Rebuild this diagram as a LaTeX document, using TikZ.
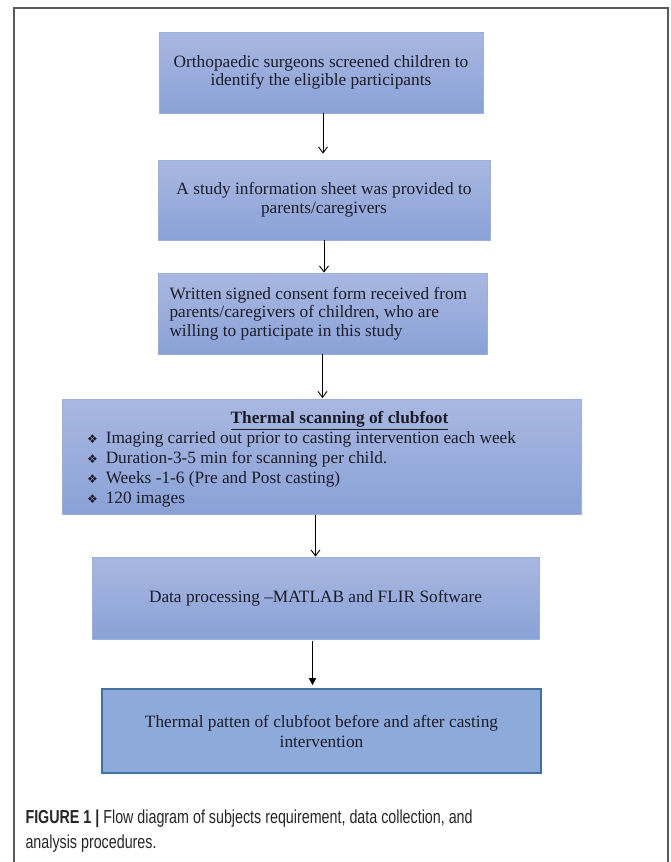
\documentclass[tikz,border=0pt]{standalone}
\usepackage{fontspec}
\setmainfont{Liberation Serif}
\newfontfamily\capfont[FakeStretch=0.76]{Liberation Sans}
\newfontfamily\symfont{DejaVu Sans}
\usetikzlibrary{arrows.meta,calc}

\definecolor{boxtop}{HTML}{A9B8E1}
\definecolor{boxbot}{HTML}{8AA1D7}
\definecolor{boxline}{HTML}{9BB0D8}
\definecolor{lastfill}{HTML}{8EAADB}
\definecolor{lastline}{HTML}{41719C}
\definecolor{txt}{HTML}{1C1C28}

\newcommand{\bul}{{\symfont\fontsize{12}{12}\selectfont ❖}\hspace{8pt}}

\begin{document}
\begin{tikzpicture}[x=1pt,y=-1pt,
  stepbox/.style={rectangle,top color=boxtop,bottom color=boxbot,draw=boxline,
    line width=0.8pt,inner sep=0pt,text=txt,font=\fontsize{17.3}{18.5}\selectfont},
  lastbox/.style={rectangle,fill=lastfill,draw=lastline,line width=1.6pt,
    inner sep=0pt,text=txt,font=\fontsize{17.3}{20}\selectfont},
  flow/.style={-{Straight Barb[length=6pt,width=9pt]},line width=0.9pt},
  flowtri/.style={-{Triangle[length=7pt,width=7pt]},line width=0.6pt}]
\useasboundingbox (0,0) rectangle (670,862);
\draw [line width=1.4pt,draw=black!65] (14,862) -- (14,8) -- (668,8) -- (668,862);

\node [stepbox,minimum width=324pt,minimum height=81pt,align=center,text depth=4pt] (b1) at (321,72.5)
  {Orthopaedic surgeons screened children to\\identify the eligible participants};
\node [stepbox,minimum width=332pt,minimum height=80pt,align=center] (b2) at (324,200)
  {A study information sheet was provided to\\parents/caregivers};
\node [stepbox,minimum width=329pt,minimum height=81pt] (b3) at (322.5,313.5)
  {\begin{minipage}{306pt}\raggedright Written signed consent form received from\\
   parents/caregivers of children, who are\\willing to participate in this study\end{minipage}};
\node [stepbox,minimum width=519pt,minimum height=115pt] (b4) at (321.5,457)
  {\begin{minipage}{505pt}\baselineskip=20pt
   \vspace*{5pt}\centering\hspace*{36pt}\textbf{\underline{Thermal scanning of clubfoot}}\par
   \raggedright\leftskip=18pt
   \bul Imaging carried out prior to casting intervention each week\\
   \bul Duration-3-5 min for scanning per child.\\
   \bul Weeks -1-6 (Pre and Post casting)\\
   \bul 120 images\end{minipage}};
\node [stepbox,minimum width=447pt,minimum height=82pt,align=center] (b5) at (315.5,598)
  {Data processing --MATLAB and FLIR Software};
\node [lastbox,minimum width=439pt,minimum height=84pt,align=center] (b6) at (321.5,731)
  {Thermal patten of clubfoot before and after casting\\intervention};

\coordinate (a1) at ($(b1.south)+(2,0)$);
\coordinate (a5) at ($(b5.south)+(-3,0)$);
\draw [flow,shorten >=6pt] (a1) -- (a1 |- b2.north);
\draw [flow] (b2.south) -- (b2.south |- b3.north);
\draw [flow,shorten >=1pt] (b3.south) -- (b3.south |- b4.north);
\draw [flow] (b4.south -| b5) -- (b5.north);
\draw [flowtri,shorten <=2pt,shorten >=3pt] (a5) -- (a5 |- b6.north);

\node [anchor=base west,text=black!85,font=\capfont\fontsize{18.8}{25}\selectfont,
  align=left] (cap) at (22,848)
  {\textbf{FIGURE 1 |} Flow diagram of subjects requirement, data collection, and\\
   analysis procedures.};
\end{tikzpicture}
\end{document}
